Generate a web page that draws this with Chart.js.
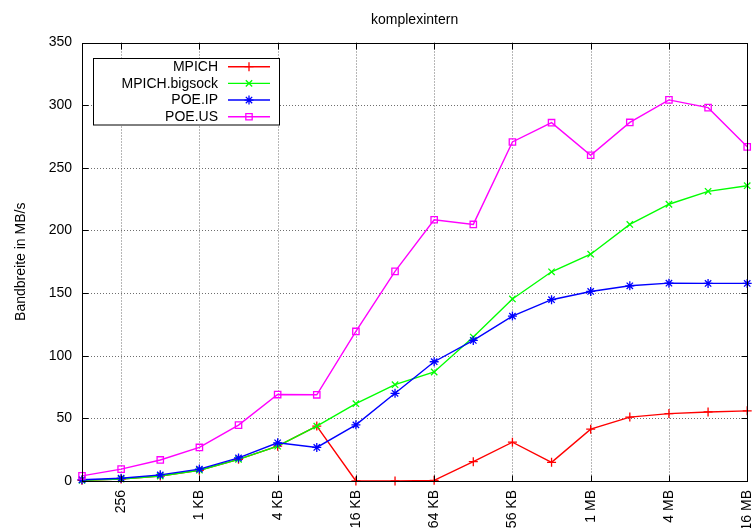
<!DOCTYPE html>
<html>
<head>
<meta charset="utf-8">
<script src="https://cdn.jsdelivr.net/npm/chart.js@4/dist/chart.umd.min.js"></script>
<style>
html,body{margin:0;padding:0;background:#fff;}
canvas{display:block;}
</style>
</head>
<body>
<canvas id="c" width="753" height="528"></canvas>
<script>
const chartTitle = 'komplexintern';
const yTitle = 'Bandbreite in MB/s';
const sizes = [128,256,512,1024,2048,4096,8192,16384,32768,65536,131072,262144,524288,1048576,2097152,4194304,8388608,16777216];
const mpich   = [0.5,1.6,4.0,8.6,17.3,27.8,43.8,0,0,0.5,15.4,31.0,14.9,41.4,51.0,53.8,55.1,56.0];
const bigsock = [0.5,1.6,4.0,8.6,17.3,27.8,43.8,61.7,76.9,87.0,114.9,145.3,167.0,181.0,204.8,220.9,231.2,235.7];
const poeIp   = [1.0,2.2,4.9,9.5,18.4,30.5,26.8,44.8,70.0,95.2,112.2,131.6,144.7,151.3,155.8,157.9,157.7,157.7];
const poeUs   = [4.1,9.5,16.8,26.8,44.6,69.0,68.8,119.4,167.3,208.5,204.8,270.6,286.0,260.0,286.2,304.2,298.0,266.7];
const seriesNames = ['MPICH','MPICH.bigsock','POE.IP','POE.US'];
const xTickValues = [256,1024,4096,16384,65536,262144,1048576,4194304,16777216];
const xTickLabels = ['256','1 KB','4 KB','16 KB','64 KB','256 KB','1 MB','4 MB','16 MB'];
const yTickValues = [0,50,100,150,200,250,300,350];

const FONT = '"Liberation Sans", Arial, sans-serif';
const colors = ['#ff0000','#00ff00','#0000ff','#ff00ff'];
const styles = ['cross','crossRot','star','rect'];
const allSeries = [mpich, bigsock, poeIp, poeUs];

function pts(arr){ return sizes.map((s,i)=>({x:s,y:arr[i]})); }

const datasets = allSeries.map((arr,i)=>({
  label: seriesNames[i],
  data: pts(arr),
  borderColor: colors[i],
  backgroundColor: colors[i],
  pointBorderColor: colors[i],
  pointBackgroundColor: 'rgba(0,0,0,0)',
  pointStyle: styles[i],
  pointRadius: 4.5,
  pointBorderWidth: 1.3,
  borderWidth: 1.4,
  tension: 0,
  clip: false,
  order: 4 - i
}));

function drawMarker(ctx, style, x, y, r){
  ctx.beginPath();
  if(style==='cross'){
    ctx.moveTo(x-r,y); ctx.lineTo(x+r,y); ctx.moveTo(x,y-r); ctx.lineTo(x,y+r);
  } else if(style==='crossRot'){
    const d=r*0.707;
    ctx.moveTo(x-d,y-d); ctx.lineTo(x+d,y+d); ctx.moveTo(x-d,y+d); ctx.lineTo(x+d,y-d);
  } else if(style==='star'){
    const d=r*0.707;
    ctx.moveTo(x-r,y); ctx.lineTo(x+r,y); ctx.moveTo(x,y-r); ctx.lineTo(x,y+r);
    ctx.moveTo(x-d,y-d); ctx.lineTo(x+d,y+d); ctx.moveTo(x-d,y+d); ctx.lineTo(x+d,y-d);
  } else if(style==='rect'){
    const d=r*0.707;
    ctx.rect(x-d,y-d,2*d,2*d);
  }
  ctx.stroke();
}

const framePlugin = {
  id:'frame',
  beforeDatasetsDraw(chart){
    const ctx=chart.ctx, a=chart.chartArea, xs=chart.scales.x, ys=chart.scales.y;
    ctx.save();
    ctx.strokeStyle='#6e6e6e'; ctx.lineWidth=1; ctx.setLineDash([1,2]);
    yTickValues.forEach(v=>{
      if(v<=0||v>=350) return;
      const y=Math.round(ys.getPixelForValue(v))+0.5;
      ctx.beginPath(); ctx.moveTo(a.left,y); ctx.lineTo(a.right,y); ctx.stroke();
    });
    xTickValues.forEach(v=>{
      const x=Math.round(xs.getPixelForValue(v))+0.5;
      if(x>=a.right-1) return;
      ctx.beginPath(); ctx.moveTo(x,a.top); ctx.lineTo(x,a.bottom); ctx.stroke();
    });
    ctx.setLineDash([]);
    ctx.restore();
  },
  afterDraw(chart){
    const ctx=chart.ctx, a=chart.chartArea, xs=chart.scales.x, ys=chart.scales.y;
    ctx.save();
    ctx.strokeStyle='#000'; ctx.lineWidth=1;
    const L=Math.round(a.left)+0.5, R=Math.round(a.right)+0.5, T=Math.round(a.top)+0.5, B=Math.round(a.bottom)+0.5;
    ctx.strokeRect(L,T,R-L,B-T);
    const tl=6;
    ctx.beginPath();
    yTickValues.forEach(v=>{
      const y=Math.round(ys.getPixelForValue(v))+0.5;
      ctx.moveTo(L,y); ctx.lineTo(L+tl,y);
      ctx.moveTo(R,y); ctx.lineTo(R-tl,y);
    });
    xTickValues.forEach(v=>{
      const x=Math.round(xs.getPixelForValue(v))+0.5;
      ctx.moveTo(x,B); ctx.lineTo(x,B-tl);
      ctx.moveTo(x,T); ctx.lineTo(x,T+tl);
    });
    ctx.stroke();
    // titles
    ctx.fillStyle='#000';
    ctx.font='14px '+FONT;
    ctx.textAlign='center'; ctx.textBaseline='middle';
    ctx.fillText(chartTitle,(a.left+a.right)/2,20);
    ctx.save();
    ctx.translate(21,(a.top+a.bottom)/2);
    ctx.rotate(-Math.PI/2);
    ctx.fillText(yTitle,0,0);
    ctx.restore();
    // legend
    ctx.fillStyle='#fff';
    ctx.fillRect(93.5,58.5,186,66.5);
    ctx.strokeStyle='#000';
    ctx.strokeRect(93.5,58.5,186,66.5);
    ctx.textAlign='right'; ctx.textBaseline='middle';
    chart.data.datasets.forEach((ds,i)=>{
      const y=66.7+i*16.67;
      ctx.fillStyle='#000';
      ctx.fillText(ds.label,218,y+0.5);
      ctx.strokeStyle=ds.borderColor; ctx.lineWidth=ds.borderWidth;
      ctx.beginPath(); ctx.moveTo(228,y); ctx.lineTo(270,y); ctx.stroke();
      ctx.lineWidth=ds.pointBorderWidth;
      drawMarker(ctx, ds.pointStyle, 249, y, ds.pointRadius);
    });
    ctx.restore();
  }
};

new Chart(document.getElementById('c'),{
  type:'line',
  data:{datasets},
  options:{
    responsive:false,
    animation:false,
    devicePixelRatio:1,
    layout:{padding:{left:0,right:5.5,top:42.5,bottom:0}},
    plugins:{legend:{display:false},tooltip:{enabled:false},title:{display:false}},
    scales:{
      x:{
        type:'logarithmic',
        min:128, max:16777216,
        afterBuildTicks(scale){ scale.ticks = xTickValues.map(v=>({value:v})); },
        afterFit(scale){ scale.height = 47; scale.paddingLeft = 0; scale.paddingRight = 0; },
        grid:{display:false,drawTicks:false},
        border:{display:false},
        ticks:{
          autoSkip:false, minRotation:90, maxRotation:90, padding:9,
          color:'#000', font:{family:FONT,size:14},
          callback(value,index){ return xTickLabels[index]; }
        }
      },
      y:{
        type:'linear',
        min:0, max:350,
        afterBuildTicks(scale){ scale.ticks = yTickValues.map(v=>({value:v})); },
        afterFit(scale){ scale.width = 82; scale.paddingTop = 0; scale.paddingBottom = 0; },
        grid:{display:false,drawTicks:false},
        border:{display:false},
        ticks:{padding:10,color:'#000',font:{family:FONT,size:14}}
      }
    }
  },
  plugins:[framePlugin]
});
</script>
</body>
</html>
